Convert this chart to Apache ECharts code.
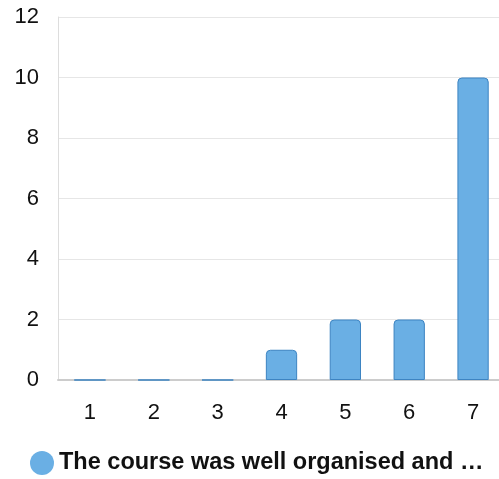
<!DOCTYPE html>
<html>
<head>
<meta charset="utf-8">
<script src="https://cdn.jsdelivr.net/npm/echarts@6.0.0/dist/echarts.min.js"></script>
<style>
  html, body { margin: 0; padding: 0; background: #fff; }
  #chart { width: 499px; height: 479px; }
</style>
</head>
<body>
<div id="chart"></div>
<script>
const categories = ['1', '2', '3', '4', '5', '6', '7']
const seriesName = 'The course was well organised and …'
const values = [0, 0, 0, 1, 2, 2, 10]

const barColor = '#6aafe4'
const barBorder = '#3d84c2'
const font = 'Liberation Sans, Arial, sans-serif'

const chart = echarts.init(document.getElementById('chart'))
chart.setOption({
  animation: false,
  grid: {
    left: 58,
    top: 17,
    right: -6,
    bottom: 99,
    outerBoundsMode: 'none',
  },
  legend: {
    left: 25,
    top: 446,
    icon: 'circle',
    itemWidth: 24,
    itemHeight: 24,
    itemGap: 10,
    itemStyle: { borderWidth: 0 },
    textStyle: {
      fontFamily: font,
      fontSize: 23.5,
      fontWeight: 'bold',
      color: '#111',
    },
    data: [seriesName],
  },
  xAxis: {
    type: 'category',
    data: categories,
    axisTick: { show: false },
    axisLine: { lineStyle: { color: '#cccccc', width: 2 } },
    axisLabel: {
      fontFamily: font,
      fontSize: 22,
      color: '#111',
      margin: 22,
    },
  },
  yAxis: {
    type: 'value',
    min: 0,
    max: 12,
    interval: 2,
    axisLine: { show: true, lineStyle: { color: '#dddddd', width: 1 } },
    axisTick: { show: false },
    splitLine: { lineStyle: { color: '#e6e6e6' } },
    axisLabel: {
      fontFamily: font,
      fontSize: 22,
      color: '#111',
      margin: 19,
    },
  },
  series: [
    {
      name: seriesName,
      type: 'bar',
      data: values,
      barWidth: '49%',
      itemStyle: {
        color: barColor,
        borderColor: barBorder,
        borderWidth: 1,
        borderRadius: [4, 4, 0, 0],
      },
    },
  ],
})
</script>
</body>
</html>
